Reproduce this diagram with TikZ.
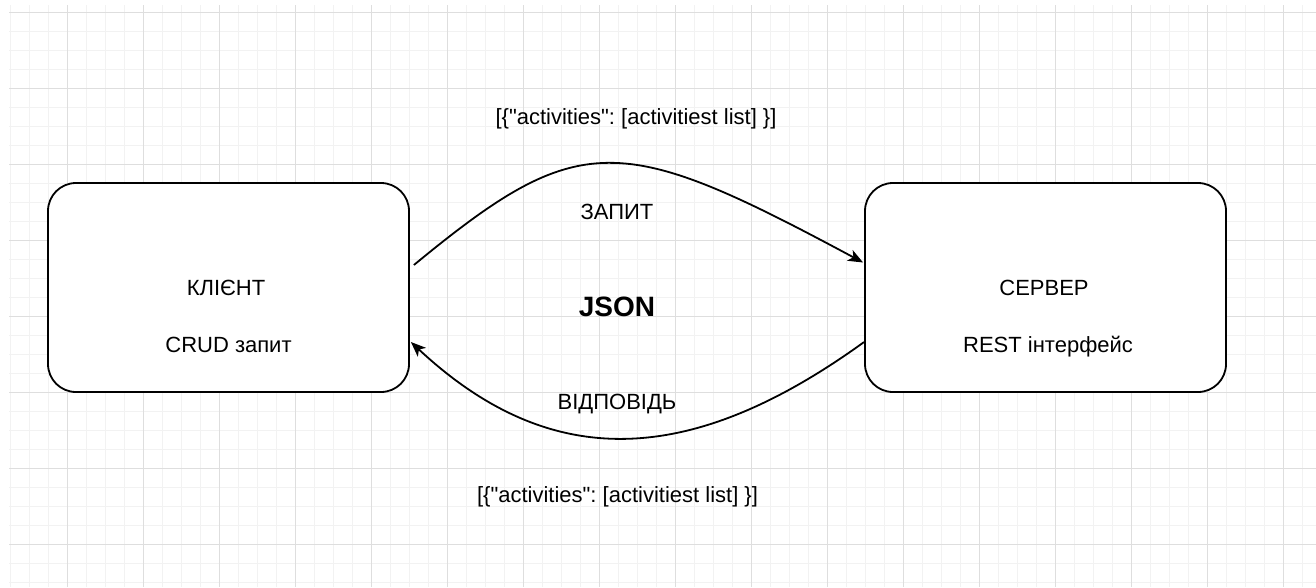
\documentclass[tikz,border=0pt]{standalone}
\usepackage{fontspec}
\setmainfont{Liberation Sans}
\newfontfamily\plainsans{Liberation Sans}
\usetikzlibrary{arrows.meta}
\begin{document}
\frenchspacing
\begin{tikzpicture}[x=1pt,y=-1pt,
  box/.style={draw=black, line width=1.8pt, fill=white, rounded corners=28pt, minimum width=361pt, minimum height=209pt, inner sep=0pt},
  lbl/.style={font=\fontsize{22}{26}\selectfont, anchor=base, inner sep=0pt, text=black},
  conn/.style={line width=1.8pt, -{Stealth[length=15pt,width=12pt,inset=4pt]}},
  minorln/.style={draw=black!5, line width=1pt},
  majorln/.style={draw=black!13, line width=1pt}]
\useasboundingbox[fill=white] (0,0) rectangle (1316,587);
% grid
\foreach \x in {10,29,...,1316} \draw[minorln] (\x,5) -- (\x,587);
\foreach \y in {12,31,...,587} \draw[minorln] (9,\y) -- (1316,\y);
\foreach \x in {67,143,...,1316} \draw[majorln] (\x,5) -- (\x,587);
\foreach \y in {12,88,...,587} \draw[majorln] (9,\y) -- (1316,\y);
% boxes
\node[box] (client) at (228.5,287.5) {};
\node[box] (server) at (1045.5,287.5) {};
% texts
\node[lbl] (t1) at (226,295) {КЛІЄНТ};
\node[lbl] (t2) at (228.5,352) {CRUD запит};
\node[lbl] (t3) at (1044,295) {СЕРВЕР};
\node[lbl] (t4) at (1048,352) {REST інтерфейс};
\node[lbl] (zap) at (617,219) {ЗАПИТ};
\node[lbl, font=\fontsize{28}{32}\selectfont\bfseries] (json) at (617,316) {JSON};
\node[lbl] (vid) at (617,409) {ВІДПОВІДЬ};
\node[lbl, font=\fontsize{22}{26}\plainsans] (j1) at (636,124) {[\{"activities": [activitiest list] \}]};
\node[lbl, font=\fontsize{22}{26}\plainsans] (j2) at (617.5,502) {[\{"activities": [activitiest list] \}]};
% connectors
\draw[conn] ([shift={(4,-22.5)}]client.east) .. controls (580,128) and (620,132) .. ([shift={(-1,-25)}]server.west);
\draw[conn] ([shift={(0,54.5)}]server.west) .. controls (687,470) and (548,470) .. ([shift={(1,54.5)}]client.east);
\end{tikzpicture}
\end{document}
